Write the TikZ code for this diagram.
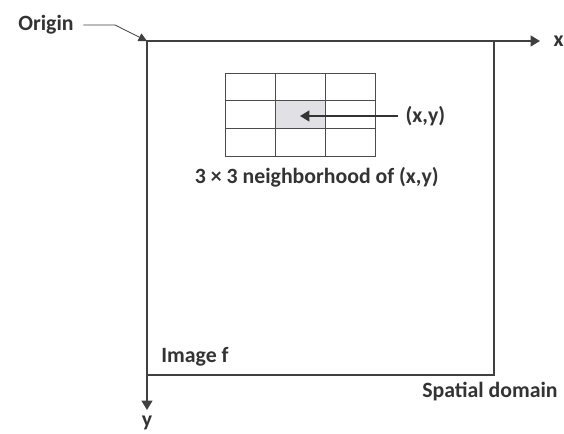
\documentclass[tikz,border=0pt]{standalone}
\usepackage{fontspec}
\setmainfont{Carlito}
\usetikzlibrary{arrows.meta}

\begin{document}
\begin{tikzpicture}
	\useasboundingbox (0,0) rectangle (14.1,10.85);
	\tikzset{
		beschriftung/.style={font=\fontsize{15.5}{17}\selectfont\bfseries, text=black!80, inner sep=1pt},
		rahmen/.style={draw=black!75, line width=1.4pt},
		gitter/.style={draw=black!70, line width=0.7pt}
	}

	% Ursprung (obere linke Ecke des Bildes)
	\coordinate (O) at (3.675,9.825);

	% Zeichnet das Bild f
	\draw[rahmen] (O) rectangle (12.35,1.475);

	% Zeichnet x-Achse und y-Achse
	\draw[rahmen][-Triangle] (O) -- (13.5,9.825) coordinate (xende);
	\draw[rahmen][-Triangle] (O) -- (3.675,0.6) coordinate (yende);
	\node[beschriftung, anchor=west] (xlabel) at (13.8,9.825) {x};
	\node[beschriftung] (ylabel) at (3.675,0.27) {y};

	% Zeichnet die 3x3 Nachbarschaft (mittleres Feld grau)
	\fill[blue!15!black!12] (6.883,7.642) rectangle (8.142,8.333);
	\draw[gitter, xstep=1.258, ystep=0.6917, shift={(5.625,6.95)}] (0,0) grid (3.775,2.075);
	\coordinate (mitte) at (7.5,7.95);

	% Pfeil zum Bildpunkt (x,y)
	\node[beschriftung, anchor=west] (punkt) at (10.1,7.95) {(x,y)};
	\draw[line width=1.4pt, black!80, -Triangle] (punkt.west) ++(-0.15,0) -- (mitte);

	\node[beschriftung] (nachbar) at (7.92,6.43) {3 × 3 neighborhood of (x,y)};

	% Beschriftung Ursprung mit Pfeil
	\node[beschriftung] (origin) at (1.15,10.225) {Origin};
	\draw[line width=0.6pt, black!75, -{Triangle[length=6pt,width=6pt]}] (origin.east) ++(0.2,0) -- (2.875,10.225) -- (O);

	% Beschriftungen Bild und Bereich
	\node[beschriftung] (bild) at (4.875,1.925) {Image f};
	\node[beschriftung] (bereich) at (12.25,1.05) {Spatial domain};
\end{tikzpicture}
\end{document}
